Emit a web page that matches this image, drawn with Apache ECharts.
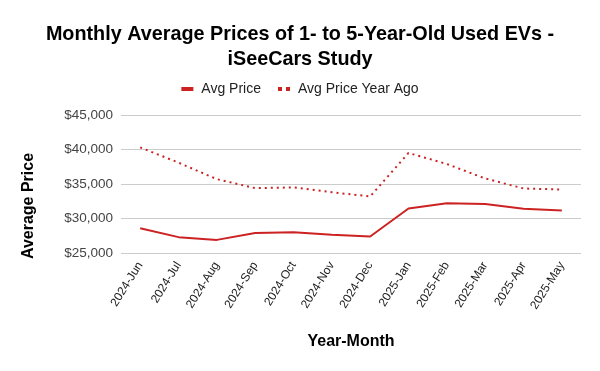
<!DOCTYPE html>
<html>
<head>
<meta charset="utf-8">
<script src="https://cdn.jsdelivr.net/npm/echarts@6/dist/echarts.min.js"></script>
<style>html,body{margin:0;padding:0;background:#fff}#c{width:600px;height:371px}</style>
</head>
<body>
<div id="c"></div>
<script>
const categories = ['2024-Jun','2024-Jul','2024-Aug','2024-Sep','2024-Oct','2024-Nov','2024-Dec','2025-Jan','2025-Feb','2025-Mar','2025-Apr','2025-May'];
const avgPrice = [28600, 27300, 26900, 27900, 28000, 27650, 27400, 31450, 32200, 32100, 31400, 31150];
const avgPriceYearAgo = [40300, 38100, 35700, 34400, 34500, 33800, 33200, 39500, 37900, 35800, 34350, 34200];
const yTicks = [25000, 30000, 35000, 40000, 45000];

const chart = echarts.init(document.getElementById('c'));
const red = '#cc2222';
const FF = 'Liberation Sans, Arial, sans-serif';
chart.setOption({
  animation: false,
  textStyle: { fontFamily: FF },
  title: {
    text: 'Monthly Average Prices of 1- to 5-Year-Old Used EVs -\niSeeCars Study',
    left: 'center', top: 17,
    textStyle: { fontSize: 19.8, fontWeight: 'bold', color: '#000', lineHeight: 25 }
  },
  legend: {
    top: 77, left: 'center',
    itemWidth: 12, itemHeight: 4, itemGap: 17,
    textStyle: { fontSize: 14, color: '#222', padding: [0, 0, 0, 3] },
    data: [
      { name: 'Avg Price', icon: 'rect' },
      { name: 'Avg Price Year Ago', icon: 'path://M0,0h4v4h-4z M8,0h4v4h-4z' }
    ]
  },
  grid: { left: 121, right: 19, top: 115, bottom: 118 },
  xAxis: {
    type: 'category', data: categories, boundaryGap: true,
    name: 'Year-Month', nameLocation: 'middle', nameGap: 81,
    nameTextStyle: { fontSize: 16, fontWeight: 'bold', color: '#000' },
    axisLine: { show: false }, axisTick: { show: false },
    axisLabel: { rotate: 58, fontSize: 12, color: '#222', margin: 10, interval: 0 }
  },
  yAxis: {
    type: 'value', min: yTicks[0], max: yTicks[yTicks.length - 1], interval: 5000,
    axisLine: { show: false }, axisTick: { show: false },
    axisLabel: { fontSize: 13.5, color: '#444', margin: 8,
      formatter: v => '$' + v.toLocaleString('en-US') },
    splitLine: { lineStyle: { color: '#cccccc', width: 1 } }
  },
  graphic: [{
    type: 'text', x: 29, y: 206, rotation: Math.PI / 2,
    style: { text: 'Average Price', font: 'bold 16px Liberation Sans, Arial, sans-serif',
      fill: '#000', align: 'center', verticalAlign: 'middle' }
  }],
  series: [
    { name: 'Avg Price', type: 'line', data: avgPrice, showSymbol: false,
      itemStyle: { color: red }, lineStyle: { color: red, width: 2 } },
    { name: 'Avg Price Year Ago', type: 'line', data: avgPriceYearAgo, showSymbol: false,
      itemStyle: { color: red }, lineStyle: { color: red, width: 2, type: [2, 4] } }
  ]
});
</script>
</body>
</html>
